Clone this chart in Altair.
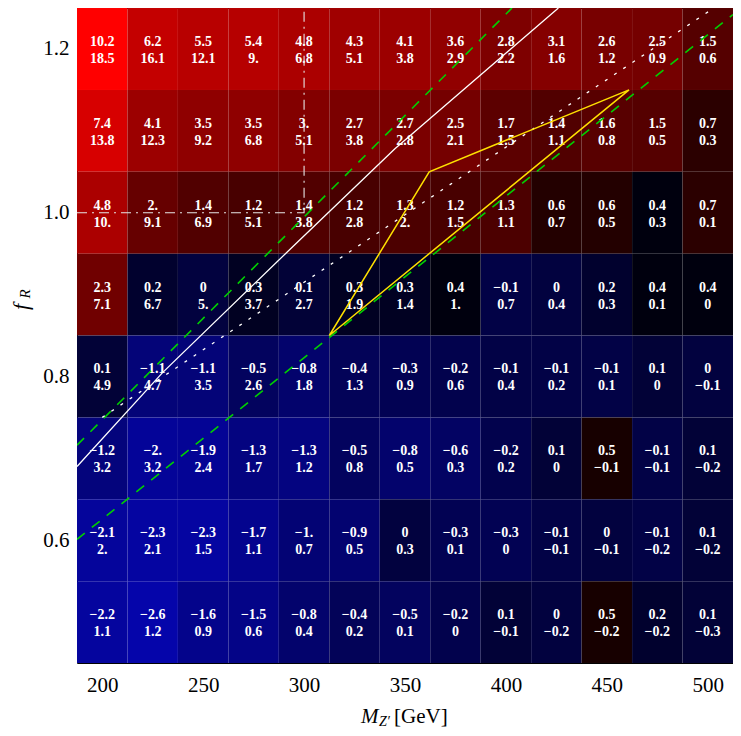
import altair as alt
import pandas as pd

# ---------------- data ----------------
masses = [200, 225, 250, 275, 300, 325, 350, 375, 400, 425, 450, 475, 500]
fR_rows = [1.2, 1.1, 1.0, 0.9, 0.8, 0.7, 0.6, 0.5]

top_vals = [
    [10.2, 6.2, 5.5, 5.4, 4.8, 4.3, 4.1, 3.6, 2.8, 3.1, 2.6, 2.5, 1.5],
    [7.4, 4.1, 3.5, 3.5, 3.0, 2.7, 2.7, 2.5, 1.7, 1.4, 1.6, 1.5, 0.7],
    [4.8, 2.0, 1.4, 1.2, 1.4, 1.2, 1.3, 1.2, 1.3, 0.6, 0.6, 0.4, 0.7],
    [2.3, 0.2, 0.0, 0.3, 0.1, 0.3, 0.3, 0.4, -0.1, 0.0, 0.2, 0.4, 0.4],
    [0.1, -1.1, -1.1, -0.5, -0.8, -0.4, -0.3, -0.2, -0.1, -0.1, -0.1, 0.1, 0.0],
    [-1.2, -2.0, -1.9, -1.3, -1.3, -0.5, -0.8, -0.6, -0.2, 0.1, 0.5, -0.1, 0.1],
    [-2.1, -2.3, -2.3, -1.7, -1.0, -0.9, 0.0, -0.3, -0.3, -0.1, 0.0, -0.1, 0.1],
    [-2.2, -2.6, -1.6, -1.5, -0.8, -0.4, -0.5, -0.2, 0.1, 0.0, 0.5, 0.2, 0.1],
]
bottom_vals = [
    [18.5, 16.1, 12.1, 9.0, 6.8, 5.1, 3.8, 2.9, 2.2, 1.6, 1.2, 0.9, 0.6],
    [13.8, 12.3, 9.2, 6.8, 5.1, 3.8, 2.8, 2.1, 1.5, 1.1, 0.8, 0.5, 0.3],
    [10.0, 9.1, 6.9, 5.1, 3.8, 2.8, 2.0, 1.5, 1.1, 0.7, 0.5, 0.3, 0.1],
    [7.1, 6.7, 5.0, 3.7, 2.7, 1.9, 1.4, 1.0, 0.7, 0.4, 0.3, 0.1, 0.0],
    [4.9, 4.7, 3.5, 2.6, 1.8, 1.3, 0.9, 0.6, 0.4, 0.2, 0.1, 0.0, -0.1],
    [3.2, 3.2, 2.4, 1.7, 1.2, 0.8, 0.5, 0.3, 0.2, 0.0, -0.1, -0.1, -0.2],
    [2.0, 2.1, 1.5, 1.1, 0.7, 0.5, 0.3, 0.1, 0.0, -0.1, -0.1, -0.2, -0.2],
    [1.1, 1.2, 0.9, 0.6, 0.4, 0.2, 0.1, 0.0, -0.1, -0.2, -0.2, -0.2, -0.3],
]

# overlay curves
white_M = [187.5, 230.0, 295.0, 345.0, 426.0]
white_f = [0.69, 0.805, 0.96, 1.078, 1.25]
green1_M = [187.5, 403.0]
green1_f = [0.716, 1.25]
green2_M = [187.5, 512.5]
green2_f = [0.601, 1.242]
dotted_M = [200.0, 503.0]
dotted_f = [0.75, 1.25]
dashdot_M = [187.5, 300.0, 300.0]
dashdot_f = [1.0, 1.0, 1.25]
yellow_M = [312.5, 362.0, 461.0, 312.5]
yellow_f = [0.85, 1.05, 1.15, 0.85]

x_ticks = [200, 250, 300, 350, 400, 450, 500]
y_ticks = [0.6, 0.8, 1.0, 1.2]


def fmt(v):
    if v == 0:
        return "0"
    s = f"{abs(v):.1f}"
    if s.endswith(".0"):
        s = s[:-1]
    return ("\u2212" if v < 0 else "") + s


rows = []
for i, f in enumerate(fR_rows):
    for j, m in enumerate(masses):
        rows.append({"M": m, "f": f, "top": top_vals[i][j], "bot": bottom_vals[i][j],
                     "tl": fmt(top_vals[i][j]), "bl": fmt(bottom_vals[i][j])})
df = pd.DataFrame(rows)


def line_df(Ms, fs):
    return pd.DataFrame({"M": Ms, "f": fs, "o": list(range(len(Ms)))})


SERIF = "Liberation Serif, Times New Roman, Times, DejaVu Serif, serif"
xs = alt.Scale(domain=[187.5, 512.5], nice=False, zero=False)
ys = alt.Scale(domain=[0.45, 1.25], nice=False, zero=False)

xaxis = alt.Axis(values=x_ticks, title=None, labelFont=SERIF, labelFontSize=21,
                 labelColor="black", ticks=False, tickSize=0, domain=False, grid=False,
                 labelPadding=11, labelFlush=False, labelOverlap=False)
yaxis = alt.Axis(values=y_ticks, format=".1f", title=None, labelFont=SERIF, labelFontSize=21,
                 labelColor="black", ticks=False, tickSize=0, domain=False, grid=False,
                 labelPadding=8, labelFlush=False, labelOverlap=False)

color_scale = alt.Scale(domain=[-1.74, 0, 3.13], range=["#0505aa", "#000000", "#ff0000"],
                        interpolate="rgb")

base = alt.Chart(df)

cells = base.transform_calculate(
    x0="datum.M - 12.5", x1="datum.M + 12.5",
    y0="datum.f - 0.05", y1="datum.f + 0.05",
    c="(datum.top >= 0.42 ? 1 : -1) * sqrt(abs(datum.top - 0.42))",
).mark_rect(stroke="#ffffff", strokeOpacity=0.03, strokeWidth=0.6).encode(
    x=alt.X("x0:Q", scale=xs, axis=xaxis),
    x2="x1:Q",
    y=alt.Y("y0:Q", scale=ys, axis=yaxis),
    y2="y1:Q",
    color=alt.Color("c:Q", scale=color_scale, legend=None),
)

txt_kw = dict(font=SERIF, fontWeight="bold", fontSize=14, color="white", baseline="middle",
              align="center")
top_text = base.mark_text(dy=-7, **txt_kw).encode(
    x=alt.X("M:Q", scale=xs), y=alt.Y("f:Q", scale=ys), text="tl:N")
bot_text = base.mark_text(dy=10, **txt_kw).encode(
    x=alt.X("M:Q", scale=xs), y=alt.Y("f:Q", scale=ys), text="bl:N")


def curve(Ms, fs, **kw):
    return alt.Chart(line_df(Ms, fs)).mark_line(clip=True, **kw).encode(
        x=alt.X("M:Q", scale=xs), y=alt.Y("f:Q", scale=ys), order="o:Q")


white = curve(white_M, white_f, color="#ffffff", strokeWidth=1.3)
green1 = curve(green1_M, green1_f, color="#00d000", strokeWidth=1.6, strokeDash=[10, 9])
green2 = curve(green2_M, green2_f, color="#00d000", strokeWidth=1.6, strokeDash=[10, 9])
dotted = curve(dotted_M, dotted_f, color="#ffffff", strokeWidth=1.3, strokeDash=[3, 8])
dashdot = curve(dashdot_M, dashdot_f, color="#e6e6e6", strokeWidth=1.1, strokeDash=[10, 5, 2, 5])
yellow = curve(yellow_M, yellow_f, color="#ffe000", strokeWidth=1.5)


def label(text, x, y, size, style="normal", angle=0, align="left"):
    return alt.Chart(pd.DataFrame({"t": [text]})).mark_text(
        font=SERIF, fontSize=size, fontStyle=style, color="black", angle=angle,
        align=align, baseline="middle").encode(x=alt.value(x), y=alt.value(y), text="t:N")


xt_M = label("M", 284, 709, 21, "italic")
xt_Z = label("Z\u2032", 302, 714, 14, "italic")
xt_G = label("[GeV]", 317, 709, 21)
yt_f = label("f", -56, 299, 22, "italic", angle=270, align="center")
yt_R = label("R", -52, 286, 15, "italic", angle=270, align="center")

chart = alt.layer(
    cells, top_text, bot_text, white, green1, green2, dotted, dashdot, yellow,
    xt_M, xt_Z, xt_G, yt_f, yt_R,
).properties(
    width=656, height=655,
    autosize=alt.AutoSizeParams(type="none"),
    padding={"left": 69, "top": 0, "right": 0, "bottom": 65},
).configure_view(stroke="black", strokeWidth=1)

chart.save("out.html", embed_options={"renderer": "svg", "actions": False})
